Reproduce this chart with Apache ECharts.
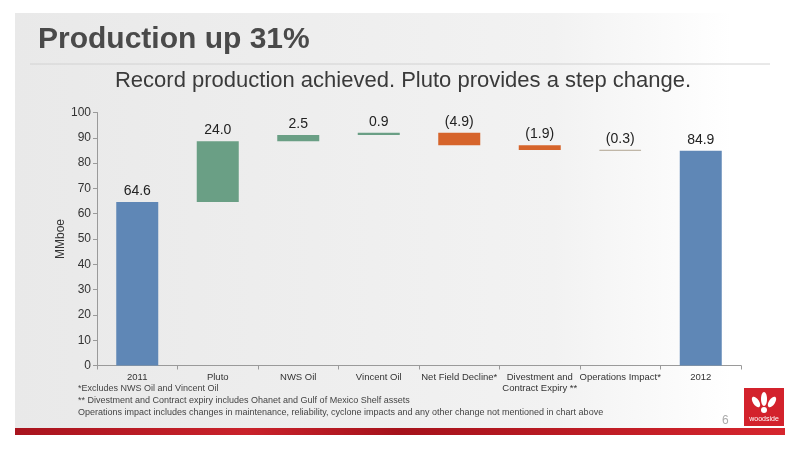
<!DOCTYPE html>
<html>
<head>
<meta charset="utf-8">
<script src="https://cdn.jsdelivr.net/npm/echarts@6/dist/echarts.min.js"></script>
<style>
  html, body { margin: 0; padding: 0; background: #fff; }
  #chart { width: 800px; height: 450px; }
</style>
</head>
<body>
<div id="chart"></div>
<script>
// categories and the step values of the waterfall
var categories = ['2011', 'Pluto', 'NWS Oil', 'Vincent Oil', 'Net Field Decline*',
  'Divestment and\nContract Expiry **', 'Operations Impact*', '2012'];
var deltas = [64.6, 24.0, 2.5, 0.9, -4.9, -1.9, -0.3, 84.9];
var isTotal = [true, false, false, false, false, false, false, true];
var yTicks = [0, 10, 20, 30, 40, 50, 60, 70, 80, 90, 100];

var footnotes = [
  '*Excludes NWS Oil and Vincent Oil',
  '** Divestment and Contract expiry includes Ohanet and Gulf of Mexico Shelf assets',
  'Operations impact includes changes in maintenance, reliability, cyclone impacts and any other change not mentioned in chart above'
];

var BLUE = '#5f87b6', GREEN = '#6a9f85', ORANGE = '#d6642b', THIN = '#b3a796';

// build base (invisible) + visible pieces from the deltas
var base = [], shown = [];
var running = 0;
for (var i = 0; i < deltas.length; i++) {
  var d = deltas[i];
  var color;
  if (isTotal[i]) {
    base.push(0);
    running = d;
    color = BLUE;
  } else if (d >= 0) {
    base.push(running);
    running += d;
    color = GREEN;
  } else {
    running += d;
    base.push(running);
    color = Math.abs(d) < 0.5 ? THIN : ORANGE;
  }
  shown.push({
    value: Math.abs(d),
    raw: d,
    itemStyle: { color: color, borderColor: color, borderWidth: Math.abs(d) < 0.5 ? 0.6 : 0 }
  });
}

var myChart = echarts.init(document.getElementById('chart'));

var option = {
  backgroundColor: '#ffffff',
  animation: false,
  graphic: [
    { // slide background
      type: 'rect', z: -10, silent: true,
      shape: { x: 15, y: 13, width: 770, height: 415 },
      style: {
        fill: new echarts.graphic.LinearGradient(0, 0, 1, 0, [
          { offset: 0, color: '#e9e9e9' },
          { offset: 0.7, color: '#f2f2f2' },
          { offset: 0.93, color: '#ffffff' },
          { offset: 1, color: '#ffffff' }
        ])
      }
    },
    {
      type: 'text', left: 38, top: 25,
      style: { text: 'Production up 31%', font: 'bold 30px "Liberation Sans", Arial, sans-serif', fill: '#4a4a4a' }
    },
    {
      type: 'line', silent: true,
      shape: { x1: 30, y1: 64, x2: 770, y2: 64 },
      style: { stroke: '#d2d2d2', lineWidth: 1 }
    },
    {
      type: 'text', x: 403, y: 70,
      style: { text: 'Record production achieved. Pluto provides a step change.', align: 'center',
        font: '22px "Liberation Sans", Arial, sans-serif', fill: '#3a3a3a' }
    },
    {
      type: 'text', left: 78, top: 383,
      style: { text: footnotes.join('\n'), font: '9px "Liberation Sans", Arial, sans-serif',
        fill: '#444', lineHeight: 12 }
    },
    {
      type: 'text', x: 722, y: 415,
      style: { text: '6', font: '12px "Liberation Sans", Arial, sans-serif', fill: '#aaa' }
    },
    { // bottom band
      type: 'rect', silent: true,
      shape: { x: 15, y: 428, width: 770, height: 7 },
      style: {
        fill: new echarts.graphic.LinearGradient(0, 0, 1, 0, [
          { offset: 0, color: '#a8141e' },
          { offset: 0.3, color: '#c9222b' },
          { offset: 0.5, color: '#a5121b' },
          { offset: 1, color: '#d6262e' }
        ])
      }
    },
    { // logo box
      type: 'group', x: 744, y: 388,
      children: [
        { type: 'rect', shape: { x: 0, y: 0, width: 40, height: 38 }, style: { fill: '#d3222c' } },
        { type: 'ellipse', shape: { cx: 12, cy: 14, rx: 3, ry: 6 }, rotation: 0.6, originX: 12, originY: 14, style: { fill: '#fff' } },
        { type: 'ellipse', shape: { cx: 20, cy: 11, rx: 3, ry: 7 }, style: { fill: '#fff' } },
        { type: 'ellipse', shape: { cx: 28, cy: 14, rx: 3, ry: 6 }, rotation: -0.6, originX: 28, originY: 14, style: { fill: '#fff' } },
        { type: 'circle', shape: { cx: 20, cy: 22, r: 3 }, style: { fill: '#fff' } },
        { type: 'text', x: 20, y: 28, style: { text: 'woodside', align: 'center',
          font: '7px "Liberation Sans", Arial, sans-serif', fill: '#fff' } }
      ]
    }
  ],
  grid: { left: 97, right: 59, top: 112.5, bottom: 84.5 },
  xAxis: {
    type: 'category',
    data: categories,
    axisLine: { lineStyle: { color: '#9a9a9a' } },
    axisTick: { show: true, alignWithLabel: false, length: 4, lineStyle: { color: '#9a9a9a' } },
    axisLabel: {
      interval: 0, color: '#333', margin: 6, lineHeight: 11,
      fontFamily: '"Liberation Sans", Arial, sans-serif', fontSize: 9.5
    }
  },
  yAxis: {
    type: 'value',
    min: yTicks[0], max: yTicks[yTicks.length - 1], interval: 10,
    name: 'MMboe', nameLocation: 'middle', nameGap: 30, nameMoveOverlap: false,
    nameTextStyle: { color: '#333', fontSize: 12, fontFamily: '"Liberation Sans", Arial, sans-serif' },
    axisLine: { show: true, lineStyle: { color: '#9a9a9a' } },
    axisTick: { show: true, length: 4, lineStyle: { color: '#9a9a9a' } },
    splitLine: { show: false },
    axisLabel: { color: '#333', fontSize: 12, margin: 6, fontFamily: '"Liberation Sans", Arial, sans-serif' }
  },
  series: [
    {
      type: 'bar', stack: 'w', data: base, barWidth: 42, silent: true,
      itemStyle: { color: 'transparent' }
    },
    {
      type: 'bar', stack: 'w', data: shown, barWidth: 42,
      label: {
        show: true, position: 'top', distance: 4, color: '#222', fontSize: 14,
        fontFamily: '"Liberation Sans", Arial, sans-serif',
        formatter: function (p) {
          var r = p.data.raw;
          return r < 0 ? '(' + Math.abs(r).toFixed(1) + ')' : r.toFixed(1);
        }
      }
    }
  ]
};
myChart.setOption(option);
</script>
</body>
</html>
